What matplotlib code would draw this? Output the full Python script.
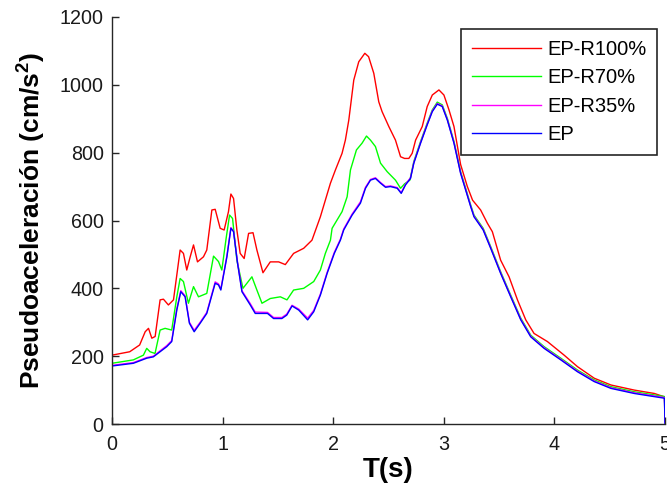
import numpy as np
import matplotlib
matplotlib.use('Agg')
import matplotlib.pyplot as plt

# data ----------------------------------------------------------------
t_r100 = [0, 0.16, 0.25, 0.30, 0.33, 0.36, 0.39, 0.435, 0.465, 0.51, 0.556, 0.592, 0.616,
          0.646, 0.676, 0.707, 0.737, 0.773, 0.827, 0.857, 0.903, 0.933, 0.978, 1.014,
          1.053, 1.075, 1.099, 1.129, 1.159, 1.195, 1.235, 1.275, 1.31, 1.365, 1.431,
          1.507, 1.567, 1.642, 1.733, 1.808, 1.884, 1.975, 2.02, 2.08, 2.11, 2.141, 2.186,
          2.231, 2.286, 2.32, 2.367, 2.412, 2.442, 2.503, 2.563, 2.609, 2.645, 2.684,
          2.714, 2.745, 2.805, 2.85, 2.896, 2.956, 3.001, 3.047, 3.092, 3.152, 3.213,
          3.26, 3.333, 3.394, 3.439, 3.514, 3.59, 3.666, 3.741, 3.816, 3.937, 4.088,
          4.209, 4.36, 4.511, 4.722, 4.904, 4.995, 5.0]
v_r100 = [203, 213, 233, 272, 282, 253, 258, 366, 368, 351, 366, 454, 513,
          503, 454, 493, 528, 478, 493, 513, 631, 633, 577, 572,
          626, 678, 665, 572, 503, 488, 562, 564, 513, 446, 478,
          478, 470, 503, 518, 542, 611, 710, 749, 798, 837, 896, 1014,
          1068, 1093, 1083, 1034, 950, 921, 877, 837, 788, 783, 783,
          798, 837, 877, 936, 970, 985, 970, 926, 877, 765, 700,
          660, 631, 592, 567, 483, 434, 366, 307, 267, 243, 203,
          169, 135, 115, 100, 90, 80, 35]

t_r70 = [0, 0.193, 0.284, 0.314, 0.344, 0.389, 0.435, 0.48, 0.54, 0.586, 0.616, 0.646,
         0.691, 0.737, 0.782, 0.857, 0.918, 0.963, 0.993, 1.033, 1.063, 1.09, 1.129,
         1.184, 1.22, 1.265, 1.31, 1.356, 1.431, 1.522, 1.582, 1.642, 1.733, 1.824,
         1.884, 1.929, 1.975, 1.99, 2.08, 2.126, 2.156, 2.21, 2.261, 2.301, 2.337, 2.382,
         2.428, 2.488, 2.563, 2.609, 2.645, 2.693, 2.729, 2.79, 2.85, 2.896, 2.941,
         2.986, 3.032, 3.092, 3.152, 3.243, 3.273, 3.356, 3.424, 3.514, 3.605, 3.696,
         3.786, 3.907, 4.058, 4.209, 4.36, 4.511, 4.722, 4.995, 5.0]
v_r70 = [179, 189, 203, 223, 213, 208, 277, 282, 277, 375, 429, 420,
         356, 405, 375, 385, 495, 479, 454, 550, 616, 606, 483,
         400, 415, 434, 395, 356, 370, 375, 366, 395, 400, 420,
         454, 503, 542, 577, 626, 670, 749, 808, 828, 849, 837, 818,
         769, 744, 719, 695, 708, 719, 774, 833, 887, 926, 949,
         941, 901, 833, 744, 646, 616, 577, 523, 449, 380, 312,
         262, 228, 194, 159, 130, 110, 95, 81, 8]

t_r35 = [0, 0.193, 0.314, 0.374, 0.495, 0.54, 0.586, 0.622, 0.661, 0.70, 0.743, 0.797,
         0.857, 0.933, 0.963, 0.984, 1.039, 1.075, 1.099, 1.135, 1.175, 1.25, 1.295,
         1.406, 1.461, 1.536, 1.58, 1.628, 1.688, 1.769, 1.824, 1.884, 1.945, 2.01,
         2.065, 2.095, 2.171, 2.246, 2.292, 2.337, 2.382, 2.428, 2.473, 2.518, 2.579,
         2.615, 2.654, 2.699, 2.729, 2.79, 2.85, 2.896, 2.941, 2.986, 3.032, 3.092,
         3.152, 3.243, 3.273, 3.356, 3.424, 3.514, 3.605, 3.696, 3.786, 3.907, 4.058,
         4.209, 4.36, 4.511, 4.722, 4.995, 5.0]
v_r35 = [173, 181, 196, 200, 231, 246, 340, 393, 378, 300, 276, 300,
         329, 419, 413, 398, 496, 579, 569, 477, 393, 355, 330,
         329, 314, 314, 324, 350, 339, 312, 335, 383, 447, 506,
         545, 575, 619, 655, 698, 721, 726, 712, 700, 702, 697,
         682, 707, 726, 771, 830, 884, 923, 945, 938, 898, 830,
         741, 643, 613, 574, 520, 446, 377, 309, 259, 225, 191,
         156, 127, 107, 92, 78, 4]

t_ep = t_r35
v_ep = [171, 179, 194, 198, 228, 243, 336, 390, 375, 297, 272, 297,
        326, 415, 410, 395, 493, 577, 567, 474, 390, 351, 326,
        326, 311, 311, 321, 348, 336, 307, 331, 380, 444, 503,
        542, 572, 616, 651, 695, 719, 724, 710, 698, 700, 695,
        680, 705, 724, 769, 828, 882, 921, 943, 936, 896, 828,
        739, 641, 611, 572, 518, 444, 375, 307, 257, 223, 189,
        154, 125, 105, 90, 76, 0]

labels = ['EP-R100%', 'EP-R70%', 'EP-R35%', 'EP']
colors = ['#ff0000', '#00ff00', '#ff00ff', '#0000ff']

# plot -----------------------------------------------------------------
plt.rcParams['font.family'] = ['Liberation Sans', 'DejaVu Sans']
plt.rcParams['mathtext.fontset'] = 'custom'
plt.rcParams['mathtext.rm'] = 'Liberation Sans'
plt.rcParams['mathtext.bf'] = 'Liberation Sans:bold'

fig = plt.figure(figsize=(6.67, 4.92), dpi=100)
ax = fig.add_axes([112/667, 68/492, 553/667, 407/492])

series = [(t_r100, v_r100), (t_r70, v_r70), (t_r35, v_r35), (t_ep, v_ep)]
for (t, v), lab, c in zip(series, labels, colors):
    ax.plot(t, v, color=c, lw=1.0, label=lab)

ax.set_xlim(0, 5)
ax.set_ylim(0, 1200)
ax.set_xticks(np.arange(0, 6, 1))
ax.set_yticks(np.arange(0, 1400, 200))
ax.spines['top'].set_visible(False)
ax.spines['right'].set_visible(False)
for s in ['left', 'bottom']:
    ax.spines[s].set_color('#262626')
    ax.spines[s].set_linewidth(1.0)
ax.tick_params(direction='in', length=5, width=1, color='#262626', labelsize=14.2,
               labelcolor='#1a1a1a')
ax.tick_params(axis='x', pad=8)
ax.tick_params(axis='y', pad=6)

ax.set_xlabel('T(s)', fontsize=20, fontweight='bold', labelpad=2)
ax.set_ylabel(r'Pseudoaceleración (cm/s$^{\mathbf{2}}$)', fontsize=19, fontweight='bold')
ax.yaxis.set_label_coords(-0.118, 0.5)

leg = ax.legend(loc='upper right', bbox_to_anchor=(0.986, 0.971), fontsize=14.5,
                frameon=True, fancybox=False, edgecolor='#262626', framealpha=1,
                handlelength=3.4, handletextpad=0.3, labelspacing=0.47,
                borderpad=0.55, borderaxespad=0)
leg.get_frame().set_linewidth(1.2)

fig.savefig('out.png', dpi=100)
